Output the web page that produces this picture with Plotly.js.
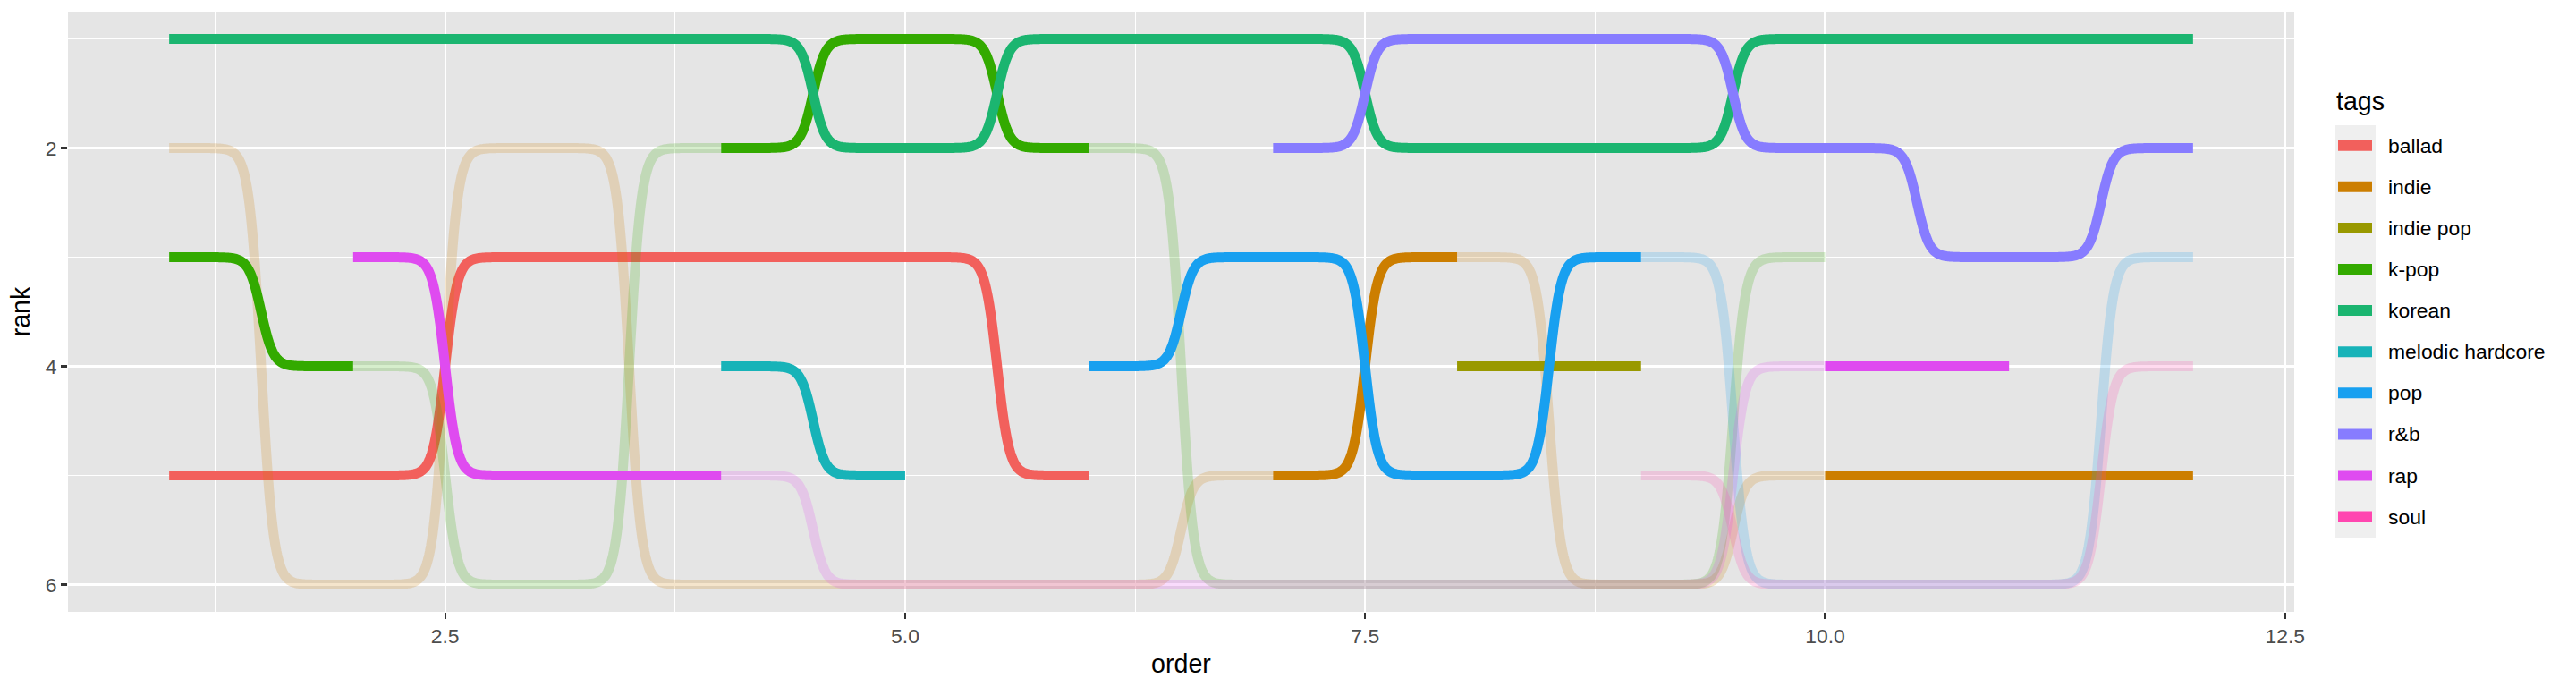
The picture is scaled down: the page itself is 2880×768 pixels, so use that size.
<!DOCTYPE html>
<html>
<head>
<meta charset="utf-8">
<script src="https://cdn.plot.ly/plotly-3.0.1.min.js"></script>
<style>html,body{margin:0;padding:0;background:#ffffff;}</style>
</head>
<body>
<div id="chart" style="width:2880px;height:768px;"></div>
<script>
// ---------------- data ----------------
const orders = [1, 2, 3, 4, 5, 6, 7, 8, 9, 10, 11, 12];
const tags = ["ballad", "indie", "indie pop", "k-pop", "korean", "melodic hardcore", "pop", "r&b", "rap", "soul"];
// rank per order (6 = outside the top five, null = no entry)
const rankBallad          = [5, 5, 3, 3, 3, 5, null, null, null, null, null, null];
const rankIndie           = [2, 6, 2, 6, 6, 6, 5, 3, 6, 5, 5, 5];
const rankIndiePop        = [null, null, null, null, null, null, null, 4, 4, null, null, null];
const rankKpop            = [3, 4, 6, 2, 1, 2, 6, 6, 6, 3, null, null];
const rankKorean          = [1, 1, 1, 1, 2, 1, 1, 2, 2, 1, 1, 1];
const rankMelodicHardcore = [null, null, null, 4, 5, null, null, null, null, null, null, null];
const rankPop             = [null, null, null, null, null, 4, 3, 5, 3, 6, 6, 3];
const rankRnb             = [null, null, null, null, null, null, 2, 1, 1, 2, 3, 2];
const rankRap             = [null, 3, 5, 5, 6, 6, 6, 6, 6, 4, 4, null];
const rankSoul            = [null, null, null, null, null, null, null, null, 5, 6, 6, 4];
const tagColors = ["#F2605C", "#CC7E00", "#999900", "#33AA00", "#1BB570", "#17B3B8", "#18A0F0", "#877CFF", "#DF4BF0", "#FF46B0"];
const outsideRank = 6;
const xTickVals = [2.5, 5, 7.5, 10, 12.5];
const xTickText = ["2.5", "5.0", "7.5", "10.0", "12.5"];
const xMinorVals = [1.25, 3.75, 6.25, 8.75, 11.25];
const yTickVals = [2, 4, 6];
const yTickText = ["2", "4", "6"];
const yMinorVals = [1, 3, 5];
const legendTitle = "tags";

const rankSeries = [rankBallad, rankIndie, rankIndiePop, rankKpop, rankKorean,
                    rankMelodicHardcore, rankPop, rankRnb, rankRap, rankSoul];

// ---------------- bump curves (sigmoid between consecutive orders) ----------------
const STEEP = 30, NPTS = 200;
const sig = t => 1 / (1 + Math.exp(-STEEP * (t - 0.5)));
const s0 = sig(0), s1 = sig(1);
const sNorm = t => (sig(t) - s0) / (s1 - s0);

const traces = [];
rankSeries.forEach((r, k) => {
  let run = null;
  const flush = () => { if (run) { traces.push(run.trace); run = null; } };
  for (let i = 0; i < orders.length - 1; i++) {
    const a = r[i], b = r[i + 1];
    if (a == null || b == null) { flush(); continue; }
    const faded = (a === outsideRank || b === outsideRank);
    if (!run || run.faded !== faded) {
      flush();
      run = { faded, trace: {
        type: "scatter", mode: "lines", x: [], y: [],
        line: { color: tagColors[k], width: 11, simplify: false },
        opacity: faded ? 0.2 : 1, hoverinfo: "skip", showlegend: false, name: tags[k]
      } };
    }
    for (let j = 0; j < NPTS; j++) {
      if (j === 0 && run.trace.x.length) continue;
      const t = j / (NPTS - 1);
      run.trace.x.push(orders[i] + t * (orders[i + 1] - orders[i]));
      run.trace.y.push(a + (b - a) * sNorm(t));
    }
  }
  flush();
});

// ---------------- layout ----------------
const W = 2880, H = 768, ML = 76, MR = 315, MT = 13, MB = 84;
const PW = W - ML - MR, PH = H - MT - MB;
const px = v => (v - ML) / PW;           // pixel -> paper x
const py = v => (H - MB - v) / PH;       // pixel -> paper y
const FONT = "Liberation Sans, Arial, Helvetica, sans-serif";

const shapes = [{
  type: "rect", xref: "paper", yref: "paper", layer: "above",
  x0: px(2610), x1: px(2656), y0: py(140), y1: py(140 + 46.1 * tags.length),
  fillcolor: "#EFEFEF", line: { width: 0 }
}];
const annotations = [{
  xref: "paper", yref: "paper", x: px(2610), y: py(113), xanchor: "left", yanchor: "middle",
  text: legendTitle, showarrow: false, font: { family: FONT, size: 28.6, color: "#000000" }
}];
tags.forEach((tg, k) => {
  const cy = 162.7 + 46.1 * k;
  shapes.push({
    type: "rect", xref: "paper", yref: "paper", layer: "above",
    x0: px(2614), x1: px(2652), y0: py(cy + 6), y1: py(cy - 6),
    fillcolor: tagColors[k], line: { width: 0 }
  });
  annotations.push({
    xref: "paper", yref: "paper", x: px(2668), y: py(cy), xanchor: "left", yanchor: "middle",
    text: tg, showarrow: false, font: { family: FONT, size: 22.9, color: "#000000" }
  });
});

const axisCommon = {
  showgrid: true, gridcolor: "#FFFFFF", gridwidth: 2.2, zeroline: false, showline: false,
  ticks: "outside", ticklen: 7, tickwidth: 2.2, tickcolor: "#333333",
  tickfont: { family: FONT, size: 22.9, color: "#4D4D4D" },
  fixedrange: true
};

const layout = {
  width: W, height: H,
  margin: { l: ML, r: MR, t: MT, b: MB, pad: 0 },
  paper_bgcolor: "#FFFFFF", plot_bgcolor: "#E5E5E5",
  showlegend: false,
  font: { family: FONT },
  xaxis: Object.assign({}, axisCommon, {
    range: [0.45, 12.55], tickmode: "array", tickvals: xTickVals, ticktext: xTickText,
    minor: { tickmode: "array", tickvals: xMinorVals, showgrid: true, gridcolor: "#FFFFFF", gridwidth: 1.1, ticks: "" },
    title: { text: "order", font: { family: FONT, size: 28.6, color: "#000000" }, standoff: 8 }
  }),
  yaxis: Object.assign({}, axisCommon, {
    range: [6.25, 0.75], tickmode: "array", tickvals: yTickVals, ticktext: yTickText,
    minor: { tickmode: "array", tickvals: yMinorVals, showgrid: true, gridcolor: "#FFFFFF", gridwidth: 1.1, ticks: "" },
    title: { text: "rank", font: { family: FONT, size: 28.6, color: "#000000" }, standoff: 8 }
  }),
  shapes: shapes,
  annotations: annotations
};

Plotly.newPlot("chart", traces, layout, { staticPlot: true, displayModeBar: false });
</script>
</body>
</html>
